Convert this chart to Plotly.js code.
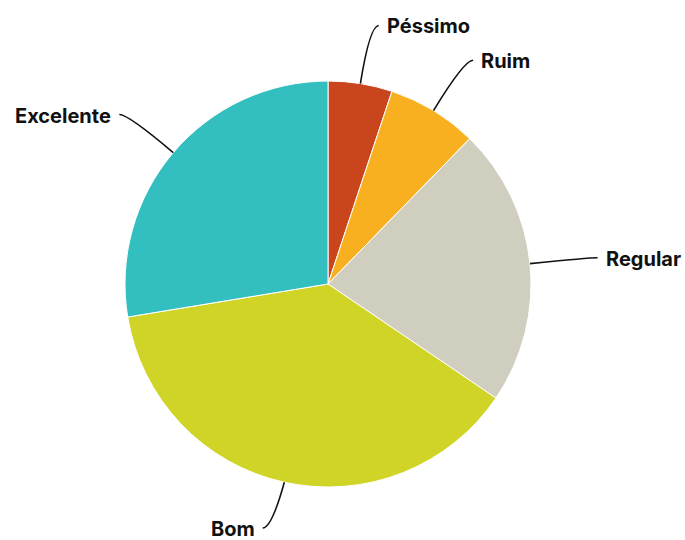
<!DOCTYPE html>
<html>
<head>
<meta charset="utf-8">
<script src="https://cdn.plot.ly/plotly-3.0.1.min.js"></script>
<style>html,body{margin:0;padding:0;background:#fff;}#chart{width:685px;height:540px;}</style>
</head>
<body>
<div id="chart"></div>
<script>
const categories = ["Péssimo", "Ruim", "Regular", "Bom", "Excelente"];
const values = [5.1, 7.2, 22.2, 37.9, 27.6];
const colors = ["#c9461d", "#f8b021", "#d0cebf", "#d0d426", "#33bec0"];

const W = 685, H = 540;
const M = {l: 125, r: 154, t: 81, b: 53};
const PW = W - M.l - M.r, PH = H - M.t - M.b;
const R = Math.min(PW, PH) / 2;
const CX = M.l + PW / 2, CY = M.t + PH / 2;

function toPaper(px, py) { return [(px - M.l) / PW, (H - M.b - py) / PH]; }

const total = values.reduce((a, b) => a + b, 0);
const shapes = [], annotations = [];
let cum = 0;
values.forEach((v, i) => {
  const a = (cum + v / 2) / total * 2 * Math.PI;
  cum += v;
  const s = Math.sin(a), c = Math.cos(a);
  const side = s >= 0 ? 1 : -1;
  const p0 = [CX + R * s, CY - R * c];
  let p1 = [CX + 1.29 * R * s, CY - 1.29 * R * c];
  p1[1] = Math.min(p1[1], H - 12);
  const e = [p1[0] + side * 9, p1[1]];
  const A = toPaper(...p0), C = toPaper(...p1), E = toPaper(...e);
  shapes.push({
    type: "path", xref: "paper", yref: "paper",
    path: `M ${A[0]} ${A[1]} Q ${C[0]} ${C[1]} ${E[0]} ${E[1]}`,
    line: {color: "#111", width: 1.6}
  });
  const L = toPaper(e[0] + side * 6, e[1] + 1);
  annotations.push({
    xref: "paper", yref: "paper", x: L[0], y: L[1],
    text: categories[i], showarrow: false,
    xanchor: side > 0 ? "left" : "right", yanchor: "middle",
    font: {family: "Inter, Roboto, sans-serif", size: 20, weight: 700, color: "#111"}
  });
});

Plotly.newPlot("chart", [{
  type: "pie", labels: categories, values: values, sort: false,
  direction: "clockwise", rotation: 0,
  marker: {colors: colors, line: {color: "#ffffff", width: 1}},
  textinfo: "none", hoverinfo: "none", showlegend: false
}], {
  width: W, height: H, margin: M,
  paper_bgcolor: "#fff", plot_bgcolor: "#fff",
  showlegend: false, shapes: shapes, annotations: annotations
}, {displayModeBar: false, staticPlot: true});
</script>
</body>
</html>
